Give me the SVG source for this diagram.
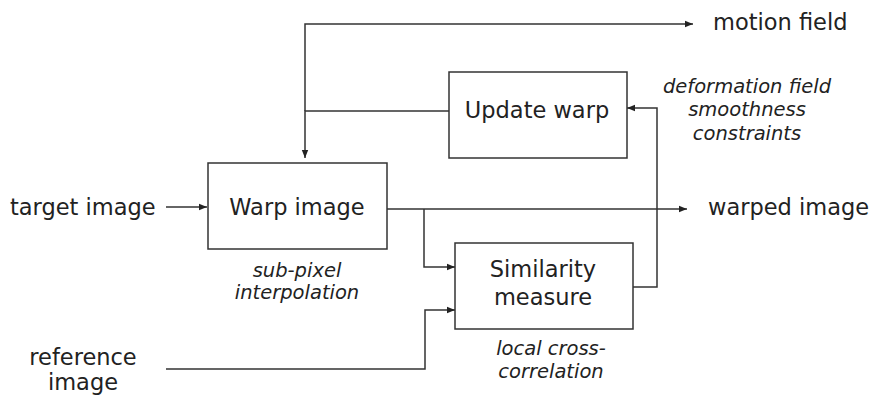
<svg xmlns="http://www.w3.org/2000/svg" width="870" height="395" viewBox="0 0 870 395">
<defs>
<marker id="ah" markerWidth="8" markerHeight="8" refX="8" refY="4" orient="auto" markerUnits="userSpaceOnUse">
<path d="M0,0.8 L8,4 L0,7.2 Z" fill="#222"/>
</marker>
</defs>
<style>
.box{fill:#fff;stroke:#333;stroke-width:1.5}
.ln{fill:none;stroke:#333;stroke-width:1.5}
.t{font-family:"DejaVu Sans",Verdana,sans-serif;font-size:22.5px;fill:#222}
.i{font-family:"DejaVu Sans",Verdana,sans-serif;font-size:19.5px;font-style:italic;fill:#222}
</style>
<rect width="870" height="395" fill="#fff"/>
<g id="connectors">
<path class="ln" d="M305,111 V24 H693" marker-end="url(#ah)"/>
<path class="ln" d="M449,111 H305 V158" marker-end="url(#ah)"/>
<path class="ln" d="M166,207 H207" marker-end="url(#ah)"/>
<path class="ln" d="M387,209 H687" marker-end="url(#ah)"/>
<path class="ln" d="M424,209 V267 H455" marker-end="url(#ah)"/>
<path class="ln" d="M166,369 H425 V310 H455" marker-end="url(#ah)"/>
<path class="ln" d="M633,287 H657 V108 H627" marker-end="url(#ah)"/>
</g>
<g id="warp">
<rect class="box" x="208" y="163" width="179" height="86"/>
<text class="t" x="297" y="215" text-anchor="middle">Warp image</text>
<text class="i" x="297" y="277" text-anchor="middle">sub-pixel</text>
<text class="i" x="297" y="299" text-anchor="middle">interpolation</text>
</g>
<g id="update">
<rect class="box" x="449" y="72" width="178" height="86"/>
<text class="t" x="537" y="118" text-anchor="middle">Update warp</text>
</g>
<g id="similarity">
<rect class="box" x="455" y="243" width="178" height="86"/>
<text class="t" x="543" y="277" text-anchor="middle">Similarity</text>
<text class="t" x="543" y="305" text-anchor="middle">measure</text>
<text class="i" x="551" y="355" text-anchor="middle">local cross-</text>
<text class="i" x="551" y="378" text-anchor="middle">correlation</text>
</g>
<g id="constraints">
<text class="i" x="747" y="93" text-anchor="middle">deformation field</text>
<text class="i" x="747" y="116" text-anchor="middle">smoothness</text>
<text class="i" x="747" y="140" text-anchor="middle">constraints</text>
</g>
<g id="target">
<text class="t" x="10" y="215">target image</text>
</g>
<g id="reference">
<text class="t" x="83" y="365" text-anchor="middle">reference</text>
<text class="t" x="83" y="390" text-anchor="middle">image</text>
</g>
<g id="motion">
<text class="t" x="713" y="30">motion field</text>
</g>
<g id="warped">
<text class="t" x="708" y="215">warped image</text>
</g>
</svg>
